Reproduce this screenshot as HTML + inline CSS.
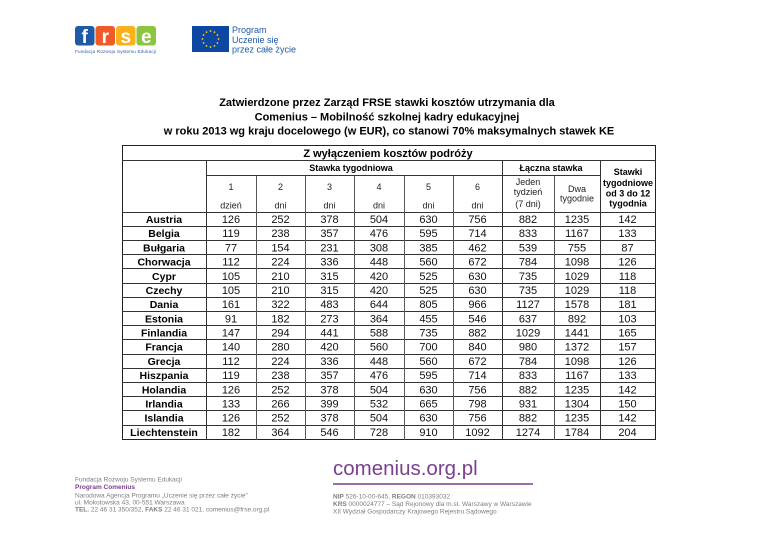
<!DOCTYPE html>
<html><head><meta charset="utf-8">
<style>
html,body{margin:0;padding:0;background:#fff;}
svg{display:block;}
text{font-family:"Liberation Sans",Arial,sans-serif;}
.t{font-size:11px;font-weight:bold;fill:#000;text-anchor:middle;}
.h{font-size:9px;font-weight:bold;fill:#000;text-anchor:middle;}
.s{font-size:9px;fill:#222;text-anchor:middle;}
.c{font-size:10.5px;font-weight:bold;fill:#000;text-anchor:middle;}
.n{font-size:11px;fill:#111;text-anchor:middle;}
.f{font-size:6.5px;fill:#7e7e7e;}
</style></head>
<body>
<svg width="768" height="543" viewBox="0 0 768 543" xmlns="http://www.w3.org/2000/svg">
<rect width="768" height="543" fill="#fff"/>
<!-- FRSE logo -->
<rect x="75" y="26" width="19.5" height="19.5" rx="3" fill="#1f5aa6"/>
<rect x="95.5" y="26" width="19.5" height="19.5" rx="3" fill="#f05a28"/>
<rect x="116" y="26" width="19.5" height="19.5" rx="3" fill="#f9b21b"/>
<rect x="136.5" y="26" width="19.5" height="19.5" rx="3" fill="#8cc540"/>
<text x="84.7" y="43" style="font-size:19px;font-weight:bold;fill:#fff;text-anchor:middle">f</text>
<text x="105.3" y="43" style="font-size:19px;font-weight:bold;fill:#fff;text-anchor:middle">r</text>
<text x="125.8" y="43" style="font-size:19px;font-weight:bold;fill:#fff;text-anchor:middle">s</text>
<text x="146.3" y="43" style="font-size:19px;font-weight:bold;fill:#fff;text-anchor:middle">e</text>
<text x="75" y="53" style="font-size:4.6px;fill:#2a5caa" textLength="81">Fundacja Rozwoju Systemu Edukacji</text>
<!-- EU flag -->
<rect x="192" y="26" width="37" height="26" fill="#0d47a1"/>
<g fill="#ffd600">
<circle cx="210.5" cy="31" r="0.9"/><circle cx="214.5" cy="32.1" r="0.9"/><circle cx="217.4" cy="35" r="0.9"/>
<circle cx="218.5" cy="39" r="0.9"/><circle cx="217.4" cy="43" r="0.9"/><circle cx="214.5" cy="45.9" r="0.9"/>
<circle cx="210.5" cy="47" r="0.9"/><circle cx="206.5" cy="45.9" r="0.9"/><circle cx="203.6" cy="43" r="0.9"/>
<circle cx="202.5" cy="39" r="0.9"/><circle cx="203.6" cy="35" r="0.9"/><circle cx="206.5" cy="32.1" r="0.9"/>
</g>
<text x="232" y="33" style="font-size:9px;fill:#1d5aa8">Program</text>
<text x="232" y="43" style="font-size:9px;fill:#1d5aa8">Uczenie się</text>
<text x="232" y="52.5" style="font-size:9px;fill:#1d5aa8">przez całe życie</text>

<!-- Title -->
<text class="t" x="387" y="106">Zatwierdzone przez Zarząd FRSE stawki kosztów utrzymania dla</text>
<text class="t" x="387" y="120.5">Comenius – Mobilność szkolnej kadry edukacyjnej</text>
<text class="t" x="389" y="134.5">w roku 2013 wg kraju docelowego (w EUR), co stanowi 70% maksymalnych stawek KE</text>

<!-- Table lines -->
<g stroke="#333" stroke-width="1" fill="none" shape-rendering="crispEdges">
<rect x="122.5" y="145.5" width="533" height="294" stroke="#222" stroke-width="1.3"/>
<line x1="122" y1="160.5" x2="656" y2="160.5"/>
<line x1="206" y1="175.5" x2="600" y2="175.5"/>
<line x1="122" y1="212.5" x2="656" y2="212.5"/>
<line x1="122" y1="226.5" x2="656" y2="226.5"/>
<line x1="122" y1="240.5" x2="656" y2="240.5"/>
<line x1="122" y1="254.5" x2="656" y2="254.5"/>
<line x1="122" y1="268.5" x2="656" y2="268.5"/>
<line x1="122" y1="283.5" x2="656" y2="283.5"/>
<line x1="122" y1="297.5" x2="656" y2="297.5"/>
<line x1="122" y1="311.5" x2="656" y2="311.5"/>
<line x1="122" y1="325.5" x2="656" y2="325.5"/>
<line x1="122" y1="339.5" x2="656" y2="339.5"/>
<line x1="122" y1="354.5" x2="656" y2="354.5"/>
<line x1="122" y1="368.5" x2="656" y2="368.5"/>
<line x1="122" y1="382.5" x2="656" y2="382.5"/>
<line x1="122" y1="396.5" x2="656" y2="396.5"/>
<line x1="122" y1="410.5" x2="656" y2="410.5"/>
<line x1="122" y1="425.5" x2="656" y2="425.5"/>
<line x1="206.5" y1="161" x2="206.5" y2="440"/>
<line x1="502.5" y1="161" x2="502.5" y2="440"/>
<line x1="600.5" y1="161" x2="600.5" y2="440"/>
</g>
<g stroke="#555" stroke-width="1" shape-rendering="crispEdges">
<line x1="256.5" y1="176" x2="256.5" y2="440"/>
<line x1="305.5" y1="176" x2="305.5" y2="440"/>
<line x1="354.5" y1="176" x2="354.5" y2="440"/>
<line x1="404.5" y1="176" x2="404.5" y2="440"/>
<line x1="453.5" y1="176" x2="453.5" y2="440"/>
<line x1="554.5" y1="176" x2="554.5" y2="440"/>
</g>

<!-- Header texts -->
<text class="t" x="388" y="157">Z wyłączeniem kosztów podróży</text>
<text class="h" x="351" y="171">Stawka tygodniowa</text>
<text class="h" x="551" y="171">Łączna stawka</text>
<text class="h" x="628" y="175">Stawki</text>
<text class="h" x="628" y="186">tygodniowe</text>
<text class="h" x="628" y="196.5">od 3 do 12</text>
<text class="h" x="628" y="206.5">tygodnia</text>

<text class="s" x="231" y="190">1</text>
<text class="s" x="280.5" y="190">2</text>
<text class="s" x="329.5" y="190">3</text>
<text class="s" x="379" y="190">4</text>
<text class="s" x="428.5" y="190">5</text>
<text class="s" x="477.5" y="190">6</text>
<text class="s" x="231" y="208.5">dzień</text>
<text class="s" x="280.5" y="208.5">dni</text>
<text class="s" x="329.5" y="208.5">dni</text>
<text class="s" x="379" y="208.5">dni</text>
<text class="s" x="428.5" y="208.5">dni</text>
<text class="s" x="477.5" y="208.5">dni</text>
<text class="s" x="528" y="185">Jeden</text>
<text class="s" x="528" y="195">tydzień</text>
<text class="s" x="528" y="207">(7 dni)</text>
<text class="s" x="577" y="192">Dwa</text>
<text class="s" x="577" y="201.5">tygodnie</text>

<!-- Rows -->
<g>
<text class="c" x="164" y="223">Austria</text><text class="n" x="231" y="223">126</text><text class="n" x="280.5" y="223">252</text><text class="n" x="329.5" y="223">378</text><text class="n" x="379" y="223">504</text><text class="n" x="428.5" y="223">630</text><text class="n" x="477.5" y="223">756</text><text class="n" x="528" y="223">882</text><text class="n" x="577" y="223">1235</text><text class="n" x="627.5" y="223">142</text>
<text class="c" x="164" y="237.2">Belgia</text><text class="n" x="231" y="237.2">119</text><text class="n" x="280.5" y="237.2">238</text><text class="n" x="329.5" y="237.2">357</text><text class="n" x="379" y="237.2">476</text><text class="n" x="428.5" y="237.2">595</text><text class="n" x="477.5" y="237.2">714</text><text class="n" x="528" y="237.2">833</text><text class="n" x="577" y="237.2">1167</text><text class="n" x="627.5" y="237.2">133</text>
<text class="c" x="164" y="251.4">Bułgaria</text><text class="n" x="231" y="251.4">77</text><text class="n" x="280.5" y="251.4">154</text><text class="n" x="329.5" y="251.4">231</text><text class="n" x="379" y="251.4">308</text><text class="n" x="428.5" y="251.4">385</text><text class="n" x="477.5" y="251.4">462</text><text class="n" x="528" y="251.4">539</text><text class="n" x="577" y="251.4">755</text><text class="n" x="627.5" y="251.4">87</text>
<text class="c" x="164" y="265.6">Chorwacja</text><text class="n" x="231" y="265.6">112</text><text class="n" x="280.5" y="265.6">224</text><text class="n" x="329.5" y="265.6">336</text><text class="n" x="379" y="265.6">448</text><text class="n" x="428.5" y="265.6">560</text><text class="n" x="477.5" y="265.6">672</text><text class="n" x="528" y="265.6">784</text><text class="n" x="577" y="265.6">1098</text><text class="n" x="627.5" y="265.6">126</text>
<text class="c" x="164" y="279.8">Cypr</text><text class="n" x="231" y="279.8">105</text><text class="n" x="280.5" y="279.8">210</text><text class="n" x="329.5" y="279.8">315</text><text class="n" x="379" y="279.8">420</text><text class="n" x="428.5" y="279.8">525</text><text class="n" x="477.5" y="279.8">630</text><text class="n" x="528" y="279.8">735</text><text class="n" x="577" y="279.8">1029</text><text class="n" x="627.5" y="279.8">118</text>
<text class="c" x="164" y="293.9">Czechy</text><text class="n" x="231" y="293.9">105</text><text class="n" x="280.5" y="293.9">210</text><text class="n" x="329.5" y="293.9">315</text><text class="n" x="379" y="293.9">420</text><text class="n" x="428.5" y="293.9">525</text><text class="n" x="477.5" y="293.9">630</text><text class="n" x="528" y="293.9">735</text><text class="n" x="577" y="293.9">1029</text><text class="n" x="627.5" y="293.9">118</text>
<text class="c" x="164" y="308.1">Dania</text><text class="n" x="231" y="308.1">161</text><text class="n" x="280.5" y="308.1">322</text><text class="n" x="329.5" y="308.1">483</text><text class="n" x="379" y="308.1">644</text><text class="n" x="428.5" y="308.1">805</text><text class="n" x="477.5" y="308.1">966</text><text class="n" x="528" y="308.1">1127</text><text class="n" x="577" y="308.1">1578</text><text class="n" x="627.5" y="308.1">181</text>
<text class="c" x="164" y="322.3">Estonia</text><text class="n" x="231" y="322.3">91</text><text class="n" x="280.5" y="322.3">182</text><text class="n" x="329.5" y="322.3">273</text><text class="n" x="379" y="322.3">364</text><text class="n" x="428.5" y="322.3">455</text><text class="n" x="477.5" y="322.3">546</text><text class="n" x="528" y="322.3">637</text><text class="n" x="577" y="322.3">892</text><text class="n" x="627.5" y="322.3">103</text>
<text class="c" x="164" y="336.5">Finlandia</text><text class="n" x="231" y="336.5">147</text><text class="n" x="280.5" y="336.5">294</text><text class="n" x="329.5" y="336.5">441</text><text class="n" x="379" y="336.5">588</text><text class="n" x="428.5" y="336.5">735</text><text class="n" x="477.5" y="336.5">882</text><text class="n" x="528" y="336.5">1029</text><text class="n" x="577" y="336.5">1441</text><text class="n" x="627.5" y="336.5">165</text>
<text class="c" x="164" y="350.7">Francja</text><text class="n" x="231" y="350.7">140</text><text class="n" x="280.5" y="350.7">280</text><text class="n" x="329.5" y="350.7">420</text><text class="n" x="379" y="350.7">560</text><text class="n" x="428.5" y="350.7">700</text><text class="n" x="477.5" y="350.7">840</text><text class="n" x="528" y="350.7">980</text><text class="n" x="577" y="350.7">1372</text><text class="n" x="627.5" y="350.7">157</text>
<text class="c" x="164" y="364.9">Grecja</text><text class="n" x="231" y="364.9">112</text><text class="n" x="280.5" y="364.9">224</text><text class="n" x="329.5" y="364.9">336</text><text class="n" x="379" y="364.9">448</text><text class="n" x="428.5" y="364.9">560</text><text class="n" x="477.5" y="364.9">672</text><text class="n" x="528" y="364.9">784</text><text class="n" x="577" y="364.9">1098</text><text class="n" x="627.5" y="364.9">126</text>
<text class="c" x="164" y="379.1">Hiszpania</text><text class="n" x="231" y="379.1">119</text><text class="n" x="280.5" y="379.1">238</text><text class="n" x="329.5" y="379.1">357</text><text class="n" x="379" y="379.1">476</text><text class="n" x="428.5" y="379.1">595</text><text class="n" x="477.5" y="379.1">714</text><text class="n" x="528" y="379.1">833</text><text class="n" x="577" y="379.1">1167</text><text class="n" x="627.5" y="379.1">133</text>
<text class="c" x="164" y="393.3">Holandia</text><text class="n" x="231" y="393.3">126</text><text class="n" x="280.5" y="393.3">252</text><text class="n" x="329.5" y="393.3">378</text><text class="n" x="379" y="393.3">504</text><text class="n" x="428.5" y="393.3">630</text><text class="n" x="477.5" y="393.3">756</text><text class="n" x="528" y="393.3">882</text><text class="n" x="577" y="393.3">1235</text><text class="n" x="627.5" y="393.3">142</text>
<text class="c" x="164" y="407.4">Irlandia</text><text class="n" x="231" y="407.4">133</text><text class="n" x="280.5" y="407.4">266</text><text class="n" x="329.5" y="407.4">399</text><text class="n" x="379" y="407.4">532</text><text class="n" x="428.5" y="407.4">665</text><text class="n" x="477.5" y="407.4">798</text><text class="n" x="528" y="407.4">931</text><text class="n" x="577" y="407.4">1304</text><text class="n" x="627.5" y="407.4">150</text>
<text class="c" x="164" y="421.6">Islandia</text><text class="n" x="231" y="421.6">126</text><text class="n" x="280.5" y="421.6">252</text><text class="n" x="329.5" y="421.6">378</text><text class="n" x="379" y="421.6">504</text><text class="n" x="428.5" y="421.6">630</text><text class="n" x="477.5" y="421.6">756</text><text class="n" x="528" y="421.6">882</text><text class="n" x="577" y="421.6">1235</text><text class="n" x="627.5" y="421.6">142</text>
<text class="c" x="164" y="435.8">Liechtenstein</text><text class="n" x="231" y="435.8">182</text><text class="n" x="280.5" y="435.8">364</text><text class="n" x="329.5" y="435.8">546</text><text class="n" x="379" y="435.8">728</text><text class="n" x="428.5" y="435.8">910</text><text class="n" x="477.5" y="435.8">1092</text><text class="n" x="528" y="435.8">1274</text><text class="n" x="577" y="435.8">1784</text><text class="n" x="627.5" y="435.8">204</text>
</g>

<!-- Footer -->
<text class="f" x="75" y="481.5">Fundacja Rozwoju Systemu Edukacji</text>
<text x="75" y="489" style="font-size:6.5px;font-weight:bold;fill:#7a3e8e">Program Comenius</text>
<text class="f" x="75" y="497.5">Narodowa Agencja Programu „Uczenie się przez całe życie”</text>
<text class="f" x="75" y="504.5">ul. Mokotowska 43, 00-551 Warszawa</text>
<text class="f" x="75" y="511.5"><tspan font-weight="bold">TEL.</tspan> 22 46 31 350/352, <tspan font-weight="bold">FAKS</tspan> 22 46 31 021, comenius@frse.org.pl</text>

<text x="333" y="475" style="font-size:20.5px;fill:#7b3f8f">comenius.org.pl</text>
<line x1="333" y1="484" x2="533" y2="484" stroke="#7b3f8f" stroke-width="1.6"/>
<text class="f" x="333" y="498.5"><tspan font-weight="bold">NIP</tspan> 526-10-00-645, <tspan font-weight="bold">REGON</tspan> 010393032</text>
<text class="f" x="333" y="506"><tspan font-weight="bold">KRS</tspan> 0000024777 – Sąd Rejonowy dla m.st. Warszawy w Warszawie</text>
<text class="f" x="333" y="513.5">XII Wydział Gospodarczy Krajowego Rejestru Sądowego</text>
</svg>
</body></html>
